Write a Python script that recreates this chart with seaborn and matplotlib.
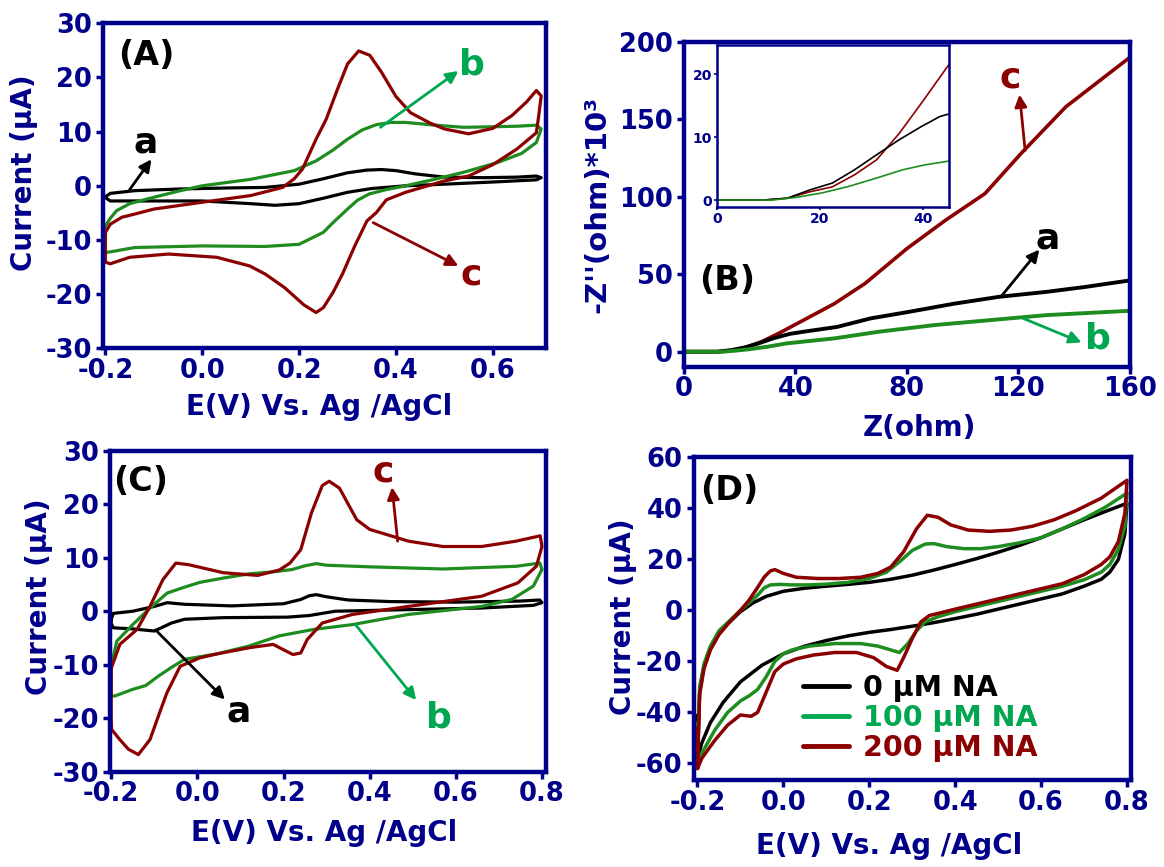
import numpy as np
import pandas as pd
import matplotlib
matplotlib.use('Agg')
import matplotlib.pyplot as plt
import seaborn as sns
from matplotlib.ticker import FormatStrFormatter

sns.set_theme(style='white')
plt.rcParams['font.family'] = ['DejaVu Sans']
plt.rcParams['font.weight'] = 'bold'

NAVY = '#00008B'
BLACK = '#000000'
GREEN = '#1E8C1E'
RED = '#8B0000'
LGREEN = '#00A650'

# ---------------- Panel A data ----------------
A_a_ux = [-0.2, -0.19, -0.14, -0.05, 0.05, 0.13, 0.2, 0.25, 0.3, 0.34, 0.37, 0.4, 0.44, 0.5, 0.58, 0.65, 0.69, 0.7]
A_a_uy = [-2.0, -1.4, -0.9, -0.6, -0.4, -0.3, 0.3, 1.3, 2.4, 2.9, 3.0, 2.8, 2.2, 1.6, 1.5, 1.6, 1.8, 1.5]
A_a_lx = [0.7, 0.69, 0.6, 0.5, 0.42, 0.35, 0.3, 0.25, 0.2, 0.15, 0.1, 0.0, -0.1, -0.19, -0.2]
A_a_ly = [1.5, 1.1, 0.7, 0.3, 0.0, -0.5, -1.2, -2.3, -3.3, -3.6, -3.3, -2.8, -2.8, -2.8, -2.2]

A_b_ux = [-0.2, -0.19, -0.177, -0.15, -0.108, -0.05, 0.0, 0.1, 0.19, 0.235, 0.27, 0.3, 0.33, 0.36, 0.39, 0.42, 0.48, 0.54, 0.6, 0.65, 0.69, 0.7]
A_b_uy = [-7.4, -6.0, -4.6, -3.3, -2.3, -1.0, 0.0, 1.2, 2.8, 4.6, 6.6, 8.6, 10.3, 11.3, 11.7, 11.7, 11.2, 10.8, 10.9, 11.0, 11.2, 10.5]
A_b_lx = [0.7, 0.69, 0.66, 0.61, 0.54, 0.48, 0.42, 0.38, 0.345, 0.32, 0.3, 0.27, 0.25, 0.2, 0.13, 0.0, -0.14, -0.19, -0.2]
A_b_ly = [10.5, 8.0, 6.0, 4.3, 2.5, 1.2, 0.0, -0.7, -1.5, -2.7, -4.3, -6.8, -8.6, -10.8, -11.2, -11.1, -11.4, -12.2, -12.3]

A_c_ux = [-0.2, -0.19, -0.166, -0.143, -0.1, -0.005, 0.1, 0.166, 0.19, 0.207, 0.235, 0.256, 0.28, 0.3, 0.323, 0.346, 0.37, 0.4, 0.43, 0.47, 0.5, 0.55, 0.6, 0.64, 0.67, 0.69, 0.7]
A_c_uy = [-8.6, -7.1, -5.8, -5.3, -4.3, -3.1, -1.8, -0.3, 1.3, 3.1, 8.6, 12.3, 18.0, 22.5, 24.9, 24.1, 21.0, 16.5, 13.5, 11.6, 10.5, 9.6, 10.6, 13.0, 15.5, 17.6, 16.6]
A_c_lx = [0.7, 0.695, 0.69, 0.65, 0.6, 0.55, 0.5, 0.42, 0.38, 0.36, 0.34, 0.315, 0.29, 0.27, 0.25, 0.235, 0.21, 0.17, 0.13, 0.098, 0.03, -0.07, -0.15, -0.19, -0.2]
A_c_ly = [16.6, 13.0, 9.8, 6.8, 3.9, 1.8, 0.9, -1.2, -2.6, -4.9, -6.5, -11.1, -16.2, -19.7, -22.5, -23.4, -22.0, -18.8, -16.3, -14.8, -13.2, -12.6, -13.2, -14.4, -14.1]

# ---------------- Panel B data ----------------
B_c_x = [0, 12, 18, 23, 28, 34, 43, 54, 65, 80, 94, 108, 121, 137, 160]
B_c_y = [0, 0, 1.0, 3.2, 6.5, 11.8, 20.4, 31, 44, 66.5, 85, 102, 128, 158, 190]
B_a_x = [0, 12, 17, 22, 27, 32, 38, 43, 55, 67, 81, 97, 113, 130, 144, 160]
B_a_y = [0, 0, 1.0, 2.8, 5.5, 8.6, 11.5, 12.9, 16, 21.5, 25.8, 31, 35.4, 38.6, 41.8, 46]
B_b_x = [0, 14, 18, 23, 30, 37, 54, 70, 90, 110, 130, 160]
B_b_y = [0, 0, 0.6, 1.5, 3.2, 5.4, 8.6, 12.9, 17.2, 20.4, 23.6, 26.4]

IN_c_x = [0, 9, 13.7, 18, 22.4, 26.7, 31, 35.4, 39.7, 45]
IN_c_y = [0, 0, 0.3, 1.3, 2.1, 4.0, 6.4, 10.6, 15.4, 21.5]
IN_a_x = [0, 9, 13.7, 18, 22.4, 26.7, 31, 35.4, 39.7, 43.3, 45]
IN_a_y = [0, 0, 0.3, 1.6, 2.7, 4.8, 7.2, 9.6, 11.7, 13.3, 13.7]
IN_b_x = [0, 10.8, 15.2, 20.2, 25.3, 31, 36, 40.4, 45]
IN_b_y = [0, 0, 0.4, 1.1, 2.1, 3.5, 4.8, 5.6, 6.2]

# ---------------- Panel C data ----------------
C_a_ux = [-0.2, -0.195, -0.15, -0.1, -0.07, -0.03, 0.08, 0.2, 0.24, 0.26, 0.276, 0.3, 0.35, 0.45, 0.6, 0.75, 0.795, 0.8]
C_a_uy = [-1.5, -0.4, 0.0, 0.9, 1.6, 1.3, 1.0, 1.4, 2.2, 2.9, 3.1, 2.7, 2.1, 1.8, 1.7, 1.9, 2.1, 1.6]
C_a_lx = [0.8, 0.78, 0.66, 0.49, 0.32, 0.26, 0.21, 0.06, -0.03, -0.06, -0.1, -0.15, -0.195, -0.2]
C_a_ly = [1.6, 1.1, 0.6, 0.3, 0.0, -0.8, -1.1, -1.2, -1.5, -2.2, -3.7, -3.3, -3.1, -2.3]

C_b_ux = [-0.2, -0.195, -0.187, -0.15, -0.11, -0.07, -0.03, 0.006, 0.06, 0.122, 0.18, 0.22, 0.25, 0.276, 0.3, 0.4, 0.57, 0.74, 0.795, 0.8]
C_b_uy = [-10.3, -8.4, -5.6, -2.5, 0.6, 3.4, 4.5, 5.4, 6.2, 7.0, 7.4, 7.8, 8.5, 8.9, 8.6, 8.3, 7.9, 8.4, 9.0, 7.8]
C_b_lx = [0.8, 0.78, 0.73, 0.66, 0.49, 0.36, 0.27, 0.19, 0.12, 0.05, -0.03, -0.06, -0.09, -0.12, -0.15, -0.19, -0.2]
C_b_ly = [7.8, 4.7, 2.2, 0.9, -0.6, -2.5, -3.4, -4.6, -6.5, -7.9, -9.0, -10.5, -12.1, -13.9, -14.6, -15.8, -15.9]

C_c_ux = [-0.2, -0.18, -0.14, -0.11, -0.08, -0.05, -0.02, 0.06, 0.14, 0.19, 0.215, 0.24, 0.265, 0.29, 0.306, 0.33, 0.37, 0.4, 0.49, 0.57, 0.66, 0.74, 0.796, 0.8]
C_c_uy = [-10.7, -6.2, -3.4, 0.9, 5.9, 9.0, 8.7, 7.2, 6.7, 7.7, 9.0, 11.5, 18.4, 23.5, 24.3, 23.0, 17.1, 15.3, 13.1, 12.1, 12.1, 13.1, 14.1, 12.1]
C_c_lx = [0.8, 0.787, 0.744, 0.66, 0.49, 0.36, 0.29, 0.255, 0.24, 0.222, 0.2, 0.176, 0.122, 0.05, 0.006, -0.04, -0.071, -0.09, -0.11, -0.137, -0.16, -0.18, -0.199, -0.2]
C_c_ly = [12.1, 8.4, 5.3, 2.8, 0.9, -0.6, -2.2, -5.3, -7.8, -8.1, -7.2, -6.2, -6.8, -7.9, -8.7, -10.3, -15.3, -19.5, -24.0, -26.8, -25.8, -24.0, -22.1, -20.0]

# ---------------- Panel D data ----------------
D_0_ux = [-0.2, -0.195, -0.185, -0.17, -0.15, -0.125, -0.1, -0.07, -0.04, 0.0, 0.05, 0.1, 0.15, 0.2, 0.25, 0.3, 0.35, 0.4, 0.45, 0.5, 0.55, 0.6, 0.65, 0.7, 0.75, 0.8]
D_0_uy = [-58, -32, -22, -15, -9, -4.5, -0.5, 3, 5.5, 7.5, 8.7, 9.5, 10.2, 11, 12.2, 13.8, 15.8, 18, 20.3, 22.8, 25.5, 28.5, 32, 35.5, 38.8, 42]
D_0_lx = [0.8, 0.795, 0.78, 0.76, 0.74, 0.7, 0.65, 0.6, 0.55, 0.5, 0.45, 0.4, 0.35, 0.3, 0.25, 0.2, 0.15, 0.1, 0.05, 0.0, -0.05, -0.1, -0.14, -0.17, -0.19, -0.2]
D_0_ly = [42, 30, 20, 15, 12.2, 9.5, 6.5, 4.5, 2.5, 0.5, -1.5, -3.2, -4.8, -6.2, -7.5, -8.6, -10, -11.8, -14, -17, -21.5, -28, -36, -44, -52, -58]

D_100_ux = [-0.2, -0.195, -0.185, -0.17, -0.15, -0.125, -0.1, -0.08, -0.06, -0.045, -0.03, -0.01, 0.02, 0.06, 0.1, 0.15, 0.2, 0.24, 0.27, 0.3, 0.33, 0.35, 0.38, 0.42, 0.46, 0.5, 0.55, 0.6, 0.65, 0.7, 0.75, 0.8]
D_100_uy = [-60, -30, -21, -14, -8, -4, 0, 3, 6, 8.8, 10, 10.2, 10, 10, 10.3, 11, 12.5, 15, 19, 23.5, 26, 26.2, 25, 24.2, 24.2, 25, 26.5, 28.5, 32, 36, 40.5, 46]
D_100_lx = [0.8, 0.795, 0.78, 0.76, 0.74, 0.7, 0.65, 0.6, 0.55, 0.5, 0.45, 0.4, 0.36, 0.33, 0.31, 0.29, 0.27, 0.25, 0.22, 0.18, 0.12, 0.06, 0.02, 0.0, -0.02, -0.04, -0.06, -0.08, -0.1, -0.13, -0.16, -0.19, -0.2]
D_100_ly = [46, 33, 24, 18, 15, 12, 9.5, 7.5, 5.5, 3.5, 1.5, -0.5, -2.5, -4.5, -8, -13, -16.5, -15.5, -14, -13, -13, -14, -15.5, -17, -20, -26, -31, -33.5, -35.5, -40, -47, -56, -60]

D_200_ux = [-0.2, -0.195, -0.185, -0.17, -0.15, -0.125, -0.1, -0.08, -0.06, -0.045, -0.03, -0.02, 0.0, 0.03, 0.08, 0.13, 0.18, 0.22, 0.25, 0.28, 0.31, 0.335, 0.36, 0.39, 0.43, 0.48, 0.53, 0.58, 0.63, 0.68, 0.74, 0.8]
D_200_uy = [-62, -33, -23, -15.5, -9.5, -4.5, 0, 4, 9, 13, 15.5, 16, 14.5, 13, 12.5, 12.5, 13, 14.5, 17, 23, 32, 37.3, 36.5, 33.5, 31.5, 31, 31.5, 33, 35.5, 39, 44, 51]
D_200_lx = [0.8, 0.795, 0.78, 0.76, 0.74, 0.7, 0.65, 0.6, 0.55, 0.5, 0.45, 0.4, 0.36, 0.34, 0.32, 0.3, 0.28, 0.265, 0.24, 0.21, 0.17, 0.12, 0.07, 0.03, 0.0, -0.02, -0.04, -0.06, -0.075, -0.1, -0.13, -0.16, -0.19, -0.2]
D_200_ly = [51, 38, 27, 21, 18, 14, 10.5, 8.5, 6.5, 4.5, 2.5, 0.5, -1.2, -2, -4.5, -11, -18.5, -23.5, -22, -18.5, -16.5, -16.5, -17.5, -19, -21, -24, -32, -40, -41.5, -41, -45, -51, -58, -62]
D_start_y = [-41, -44, -46]  # scan start points at -0.2 V (0, 100, 200 uM)

D_labels = ['0 \u03bcM NA', '100 \u03bcM NA', '200 \u03bcM NA']

# ---------------- helpers ----------------
def loop(ax, ux, uy, lx, ly, color, lw=2.3, start=None):
    x = list(ux) + list(lx) + [ux[0]]
    y = list(uy) + list(ly) + [uy[0]]
    if start is not None:
        x = [ux[0]] + x
        y = [start] + y
    df = pd.DataFrame({'x': x, 'y': y})
    sns.lineplot(data=df, x='x', y='y', sort=False, estimator=None, ax=ax,
                 color=color, lw=lw, solid_joinstyle='round', solid_capstyle='round')


def curve(ax, x, y, color, lw=2.5, label=None):
    df = pd.DataFrame({'x': x, 'y': y})
    sns.lineplot(data=df, x='x', y='y', sort=False, estimator=None, ax=ax,
                 color=color, lw=lw, solid_joinstyle='round', label=label)


def style(ax, xlim, ylim, xticks, yticks, xfmt, yfmt):
    ax.set_xlim(*xlim)
    ax.set_ylim(*ylim)
    ax.set_xticks(xticks)
    ax.set_yticks(yticks)
    ax.xaxis.set_major_formatter(FormatStrFormatter(xfmt))
    ax.yaxis.set_major_formatter(FormatStrFormatter(yfmt))
    for sp in ax.spines.values():
        sp.set_color(NAVY)
        sp.set_linewidth(3.2)
        sp.set_visible(True)
    ax.tick_params(axis='both', direction='out', length=5, width=2.5, color=NAVY,
                   labelcolor=NAVY, labelsize=18.5, bottom=True, left=True,
                   top=False, right=False)
    ax.tick_params(axis='x', pad=2)
    ax.tick_params(axis='y', pad=3)
    for lab in ax.get_xticklabels() + ax.get_yticklabels():
        lab.set_fontweight('bold')
    ax.grid(False)
    ax.set_facecolor('white')


def labels(ax, xl, yl, xc, yc, ysize=20):
    ax.set_xlabel(xl, fontsize=20, color=NAVY, fontweight='bold', va='center')
    ax.set_ylabel(yl, fontsize=ysize, color=NAVY, fontweight='bold', va='center')
    ax.xaxis.set_label_coords(*xc)
    ax.yaxis.set_label_coords(*yc)


def arrow(ax, tail, head, color):
    ax.annotate('', xy=head, xytext=tail,
                arrowprops=dict(arrowstyle='-|>', color=color, lw=2.0,
                                mutation_scale=18, shrinkA=0, shrinkB=0))


def letter(ax, x, y, s, color):
    ax.text(x, y, s, color=color, fontsize=26, fontweight='bold', ha='center', va='baseline')


fig = plt.figure(figsize=(11.64, 8.67), dpi=100)
fig.patch.set_facecolor('white')

axA = fig.add_axes([0.0885, 0.5983, 0.3806, 0.3748])
axB = fig.add_axes([0.5874, 0.5770, 0.3834, 0.3749])
axC = fig.add_axes([0.0948, 0.1099, 0.3745, 0.3702])
axD = fig.add_axes([0.5959, 0.1003, 0.3760, 0.3722])

XL = 'E(V) Vs. Ag /AgCl'
YL = 'Current (\u03bcA)'

# ---- A ----
loop(axA, A_a_ux, A_a_uy, A_a_lx, A_a_ly, BLACK)
loop(axA, A_b_ux, A_b_uy, A_b_lx, A_b_ly, GREEN)
loop(axA, A_c_ux, A_c_uy, A_c_lx, A_c_ly, RED)
style(axA, (-0.205, 0.71), (-30, 30), [-0.2, 0.0, 0.2, 0.4, 0.6], [-30, -20, -10, 0, 10, 20, 30], '%.1f', '%d')
labels(axA, XL, YL, (0.488, -0.18), (-0.178, 0.539))
axA.text(-0.116, 24, '(A)', fontsize=24, fontweight='bold', color=BLACK, ha='center', va='center')
arrow(axA, (-0.15, -0.7), (-0.105, 4.9), BLACK)
letter(axA, -0.116, 6.15, 'a', BLACK)
arrow(axA, (0.368, 10.8), (0.529, 21.2), LGREEN)
letter(axA, 0.557, 20.6, 'b', LGREEN)
arrow(axA, (0.353, -6.8), (0.529, -14.8), RED)
letter(axA, 0.555, -18.2, 'c', RED)

# ---- B ----
curve(axB, B_c_x, B_c_y, RED, lw=2.6)
curve(axB, B_a_x, B_a_y, BLACK, lw=2.8)
curve(axB, B_b_x, B_b_y, GREEN, lw=2.8)
style(axB, (0, 160), (-9.7, 200), [0, 40, 80, 120, 160], [0, 50, 100, 150, 200], '%d', '%d')
labels(axB, 'Z(ohm)', "-Z''(ohm)*10\u00b3", (0.529, -0.19), (-0.194, 0.5), ysize=21)
axB.text(15.7, 45.7, '(B)', fontsize=24, fontweight='bold', color=BLACK, ha='center', va='center')
arrow(axB, (122.4, 129.8), (120.4, 165.9), RED)
letter(axB, 117, 170.6, 'c', RED)
arrow(axB, (113.7, 35.4), (127.5, 65.9), BLACK)
letter(axB, 130.5, 66.5, 'a', BLACK)
arrow(axB, (121.7, 21.5), (142.6, 6.0), LGREEN)
letter(axB, 148.6, 2.1, 'b', LGREEN)

axIn = fig.add_axes([0.616, 0.7616, 0.1989, 0.1865])
curve(axIn, IN_c_x, IN_c_y, RED, lw=1.2)
curve(axIn, IN_a_x, IN_a_y, BLACK, lw=1.2)
curve(axIn, IN_b_x, IN_b_y, GREEN, lw=1.2)
axIn.set_xlim(0, 45)
axIn.set_ylim(-1.06, 24.7)
axIn.set_xticks([0, 20, 40])
axIn.set_yticks([0, 10, 20])
for sp in axIn.spines.values():
    sp.set_color(NAVY)
    sp.set_linewidth(1.8)
axIn.tick_params(axis='both', direction='out', length=2.5, width=1.2, color=NAVY,
                 labelcolor=NAVY, labelsize=10, pad=1, bottom=True, left=True)
for lab in axIn.get_xticklabels() + axIn.get_yticklabels():
    lab.set_fontweight('bold')
axIn.set_xlabel('')
axIn.set_ylabel('')
axIn.grid(False)

# ---- C ----
loop(axC, C_a_ux, C_a_uy, C_a_lx, C_a_ly, BLACK)
loop(axC, C_b_ux, C_b_uy, C_b_lx, C_b_ly, GREEN)
loop(axC, C_c_ux, C_c_uy, C_c_lx, C_c_ly, RED)
style(axC, (-0.202, 0.81), (-30, 30), [-0.2, 0.0, 0.2, 0.4, 0.6, 0.8], [-30, -20, -10, 0, 10, 20, 30], '%.1f', '%d')
labels(axC, XL, YL, (0.49, -0.191), (-0.164, 0.545))
axC.text(-0.131, 24.3, '(C)', fontsize=24, fontweight='bold', color=BLACK, ha='center', va='center')
arrow(axC, (0.465, 13.1), (0.452, 23.2), RED)
letter(axC, 0.431, 24.3, 'c', RED)
arrow(axC, (-0.097, -3.5), (0.064, -16.5), BLACK)
letter(axC, 0.096, -20.6, 'a', BLACK)
arrow(axC, (0.367, -2.5), (0.508, -16.6), LGREEN)
letter(axC, 0.56, -21.8, 'b', LGREEN)

# ---- D ----
loop(axD, D_0_ux, D_0_uy, D_0_lx, D_0_ly, BLACK, lw=2.5, start=D_start_y[0])
loop(axD, D_100_ux, D_100_uy, D_100_lx, D_100_ly, GREEN, lw=2.5, start=D_start_y[1])
loop(axD, D_200_ux, D_200_uy, D_200_lx, D_200_ly, RED, lw=2.5, start=D_start_y[2])
style(axD, (-0.209, 0.81), (-66.5, 60), [-0.2, 0.0, 0.2, 0.4, 0.6, 0.8], [-60, -40, -20, 0, 20, 40, 60], '%.1f', '%d')
labels(axD, XL, YL, (0.447, -0.205), (-0.161, 0.506))
axD.text(-0.126, 46.9, '(D)', fontsize=24, fontweight='bold', color=BLACK, ha='center', va='center')
lines = axD.get_lines()[:3]
leg = axD.legend(lines, D_labels, loc='upper left', bbox_to_anchor=(0.25, 0.33),
                 borderaxespad=0, borderpad=0, frameon=False,
                 prop={'weight': 'bold', 'size': 20.5}, handlelength=1.6,
                 handletextpad=0.5, labelspacing=0.08)
leg_cols = [BLACK, LGREEN, RED]
for t, h, c in zip(leg.get_texts(), leg.legend_handles, leg_cols):
    t.set_color(c)
    h.set_color(c)
    h.set_linewidth(3.5)

fig.savefig('out.png', dpi=100, facecolor='white')
